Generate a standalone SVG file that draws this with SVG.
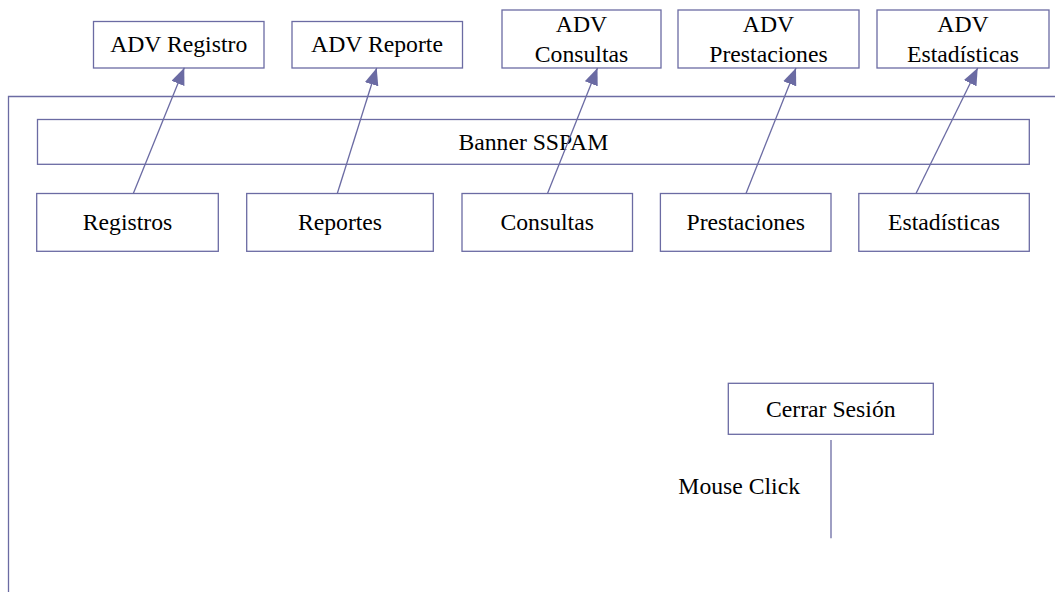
<svg xmlns="http://www.w3.org/2000/svg" width="1055" height="592" viewBox="0 0 1055 592">
<style>
.box{fill:#ffffff;stroke:#6b6ba3;stroke-width:1.3}
.t{font-family:'Liberation Serif',Tinos,'Times New Roman',Times,'DejaVu Serif',serif;font-size:23.7px;fill:#000;text-anchor:middle}
.ln{stroke:#6b6ba3;stroke-width:1.3;fill:none}
</style>
<defs>
<marker id="ah" markerUnits="userSpaceOnUse" markerWidth="18" markerHeight="14" viewBox="0 0 18 14" refX="17" refY="7" orient="auto">
<path d="M0,0 L17,7 L0,14 Z" fill="#6b6ba3"/>
</marker>
</defs>
<rect width="1055" height="592" fill="#ffffff"/>
<g id="container"><path class="ln" d="M8.5,592 V96.5 H1055"/></g>
<g id="adv-registro"><rect class="box" x="93.5" y="21.5" width="170.5" height="46.5"/><text class="t" font-family="Liberation Serif, serif" x="178.7" y="52">ADV Registro</text></g>
<g id="adv-reporte"><rect class="box" x="292" y="21.5" width="170.5" height="46.5"/><text class="t" x="377" y="52">ADV Reporte</text></g>
<g id="adv-consultas"><rect class="box" x="502" y="10" width="159" height="58"/><text class="t" x="581.5" y="32">ADV</text><text class="t" x="581.5" y="62">Consultas</text></g>
<g id="adv-prestaciones"><rect class="box" x="678" y="10" width="181" height="58"/><text class="t" x="768.5" y="32">ADV</text><text class="t" x="768.5" y="62">Prestaciones</text></g>
<g id="adv-estadisticas"><rect class="box" x="877" y="10" width="172" height="58"/><text class="t" x="963" y="32">ADV</text><text class="t" x="963" y="62">Estadísticas</text></g>
<g id="banner"><rect class="box" x="37.5" y="119.5" width="991.8" height="44.8"/><text class="t" x="533.3" y="150">Banner SSPAM</text></g>
<g id="registros"><rect class="box" x="36.7" y="193.5" width="181.6" height="57.8"/><text class="t" x="127.5" y="230">Registros</text></g>
<g id="reportes"><rect class="box" x="246.7" y="193.5" width="186.6" height="57.8"/><text class="t" x="340" y="230">Reportes</text></g>
<g id="consultas"><rect class="box" x="462" y="193.5" width="170.5" height="57.8"/><text class="t" x="547.2" y="230">Consultas</text></g>
<g id="prestaciones"><rect class="box" x="660.4" y="193.5" width="170.6" height="57.8"/><text class="t" x="745.7" y="230">Prestaciones</text></g>
<g id="estadisticas"><rect class="box" x="858.8" y="193.5" width="170.5" height="57.8"/><text class="t" x="944" y="230">Estadísticas</text></g>
<g id="cerrar-sesion"><rect class="box" x="728.3" y="383.3" width="205" height="51"/><text class="t" x="830.8" y="416.7">Cerrar Sesión</text></g>
<g id="connectors">
<line class="ln" x1="133.3" y1="193.5" x2="184.3" y2="67.7" marker-end="url(#ah)"/>
<line class="ln" x1="337.3" y1="193.5" x2="376.7" y2="68" marker-end="url(#ah)"/>
<line class="ln" x1="547.5" y1="193.5" x2="597.5" y2="68" marker-end="url(#ah)"/>
<line class="ln" x1="746" y1="193.5" x2="796" y2="68" marker-end="url(#ah)"/>
<line class="ln" x1="916" y1="193.5" x2="977.7" y2="68" marker-end="url(#ah)"/>
<line class="ln" x1="831" y1="440" x2="831" y2="538.3"/>
<text class="t" x="739.2" y="494">Mouse Click</text>
</g>
</svg>
